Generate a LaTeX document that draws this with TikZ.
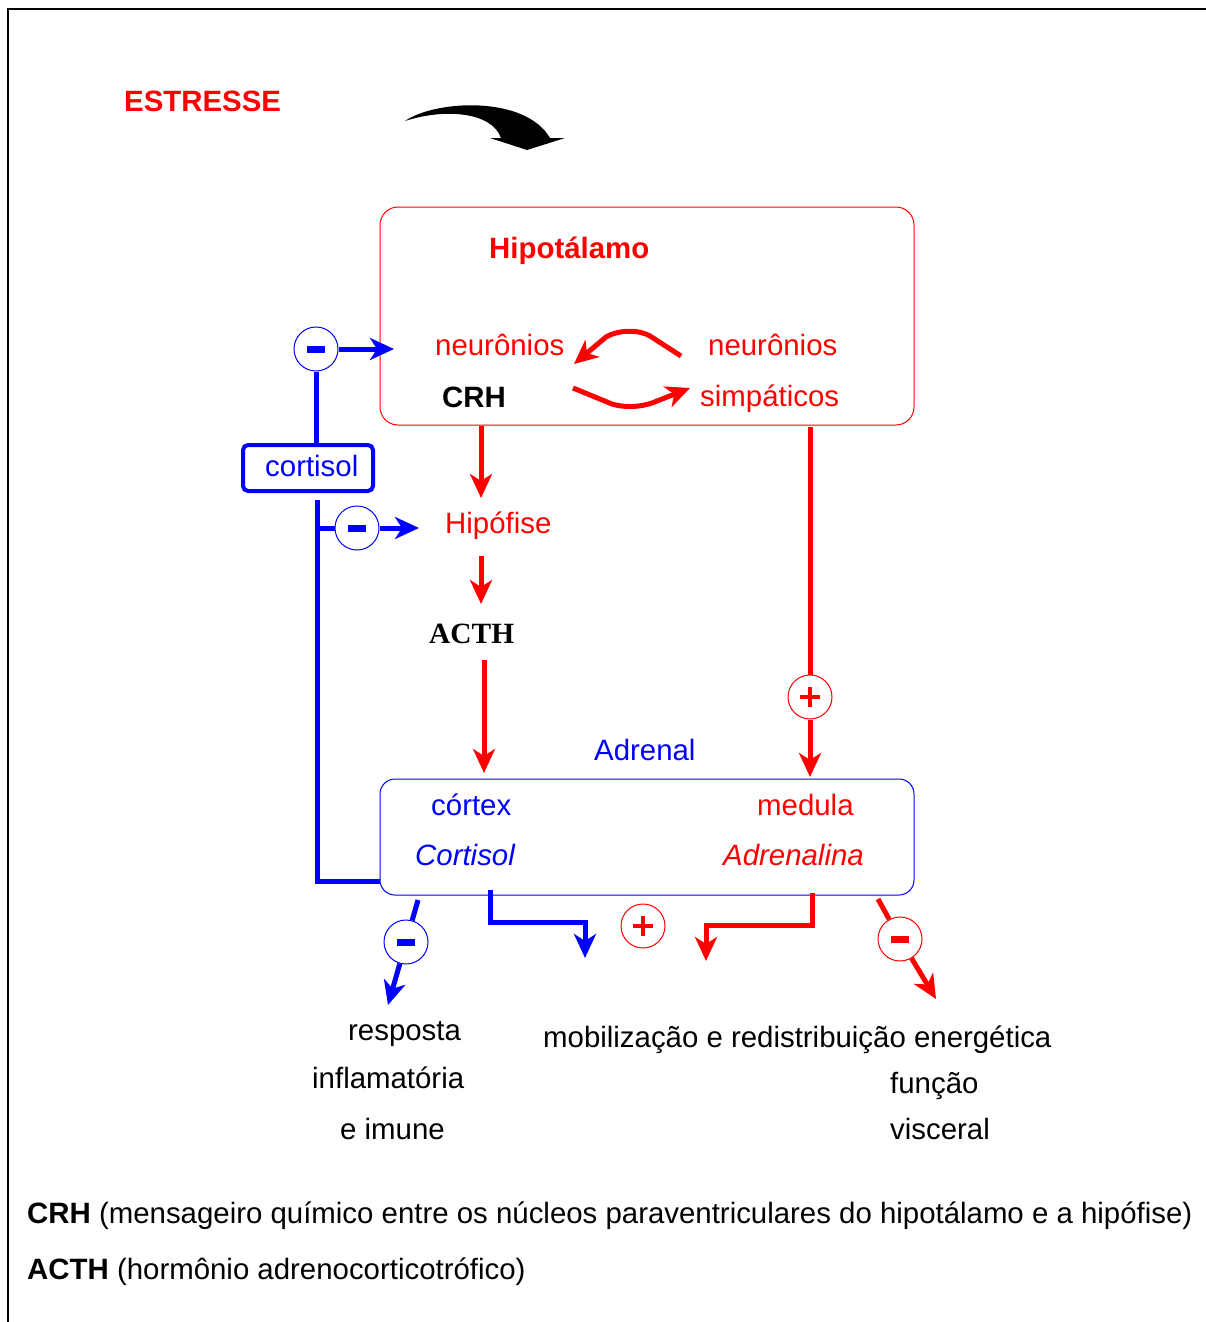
\documentclass[tikz,border=0pt]{standalone}
\usepackage{fontspec}
\setmainfont{Liberation Sans}
\newfontfamily\timesf{Liberation Serif}
\usetikzlibrary{arrows.meta}
\begin{document}
\begin{tikzpicture}[x=1pt,y=-1pt,
 txt/.style={anchor=base west, inner sep=0pt, font=\fontsize{29.4}{34}\selectfont},
 redt/.style={txt, text=red},
 bluet/.style={txt, text=blue},
 blackt/.style={txt, text=black},
 tipa/.style={-{Stealth[length=24pt,width=22pt,inset=7pt]}},
 rl/.style={line width=5pt, red},
 bl/.style={line width=5pt, blue},
 minusc/.style={circle, draw=#1, line width=1pt, minimum size=44pt, inner sep=0pt, fill=white,
   path picture={\fill[#1] ([xshift=-9pt,yshift=-3.5pt]path picture bounding box.center) rectangle ++(18pt,7pt);}},
 plusc/.style={circle, draw=red, line width=1pt, minimum size=44pt, inner sep=0pt, fill=white,
   path picture={\draw[red,line width=4pt] ([xshift=-10pt]path picture bounding box.center) -- ++(20pt,0pt)
     ([yshift=-10pt]path picture bounding box.center) -- ++(0pt,20pt);}},
 bigbox/.style={rectangle, draw=#1, line width=1pt, rounded corners=18pt, inner sep=0pt},
]
\useasboundingbox (0,0) rectangle (1206,1322);
% frame
\draw[line width=2pt] (1206,9) -- (8,9) -- (8,1322);

% stress
\node[redt, font=\fontsize{29.4}{34}\selectfont\bfseries] (estresse) at (124,111) {ESTRESSE};
\fill[black] (405,121) .. controls (435,100) and (525,95) .. (550,138) -- (565,138) -- (527,150) -- (490,138) -- (501,138)
  .. controls (492,112) and (445,108) .. (405,121);

% hypothalamus box
\node[bigbox=red, minimum width=534pt, minimum height=218pt] (hyp) at (647,316) {};
\node[redt, font=\fontsize{29.4}{34}\selectfont\bfseries] (hiptxt) at (489,258) {Hipotálamo};
\node[redt] (neur1) at (435,355) {neurônios};
\node[blackt, font=\fontsize{29.4}{34}\selectfont\bfseries] (crh) at (442,407) {CRH};
\node[redt] (neur2) at (708,355) {neurônios};
\node[redt] (simp) at (700,406) {simpáticos};

\coordinate (ca1) at (681,356);
\coordinate (ca2) at (574,364);
\coordinate (cb1) at (573,388);
\coordinate (cb2) at (690,388);
\draw[rl, tipa] (ca1) -- (650,336) .. controls (640,330) and (620,329) .. (606,337) -- (ca2);
\draw[rl, tipa] (cb1) -- (612,404) .. controls (625,408) and (640,407) .. (652,403) -- (cb2);

% cortisol feedback
\node[minusc=blue] (m1) at (316,349) {};
\coordinate (m1e) at (394,349);
\draw[bl, tipa] (m1) -- (m1e);
\node[rectangle, draw=blue, line width=4pt, rounded corners=5pt, minimum width=130pt, minimum height=46pt, inner sep=0pt] (cortbox) at (308,468) {};
\node[bluet] (cortxt) at (265,476) {cortisol};
\draw[bl] (m1) -- (m1 |- cortbox.north);
\coordinate (fb0) at (317,500);
\coordinate (fbb) at (317,528);
\node[minusc=blue] (m2) at (357,528) {};
\coordinate (m2e) at (419,528);
\draw[bl] (fbb) -- (m2);
\draw[bl, tipa] (m2) -- (m2e);

% hypophysis chain
\node[redt] (hipof) at (445,533) {Hipófise};
\coordinate (r1a) at (481,426);
\coordinate (r1b) at (481,498);
\draw[rl, tipa] (r1a) -- (r1b);
\coordinate (r2a) at (481,556);
\coordinate (r2b) at (481,604);
\draw[rl, tipa] (r2a) -- (r2b);
\node[blackt, font=\fontsize{29.4}{34}\selectfont\timesf\bfseries] (acth) at (429,643) {ACTH};
\coordinate (r3a) at (484,660);
\coordinate (r3b) at (484,773);
\draw[rl, tipa] (r3a) -- (r3b);

% sympathetic path
\coordinate (s1) at (810,427);
\node[plusc] (p1) at (810,697) {};
\coordinate (s2) at (810,777);
\draw[rl] (s1) -- (p1);
\draw[rl, tipa] (p1) -- (s2);

% adrenal
\node[bluet] (adrtxt) at (594,760) {Adrenal};
\node[bigbox=blue, rounded corners=15pt, minimum width=534pt, minimum height=116pt] (adr) at (647,837) {};
\node[bluet] (cortex) at (431,815) {córtex};
\node[bluet, font=\fontsize{29.4}{34}\selectfont\itshape] (cortisol2) at (415,865) {Cortisol};
\node[redt] (medula) at (757,815) {medula};
\node[redt, font=\fontsize{29.4}{34}\selectfont\itshape] (adrenalina) at (723,865) {Adrenalina};

\draw[bl] (fb0) -- (317,881) -- (adr.west |- 0,881);

% outputs
\coordinate (o1a) at (418,900);
\node[minusc=blue] (m3) at (406,942) {};
\coordinate (o1b) at (388,1005);
\draw[bl] (o1a) -- (m3);
\draw[bl, tipa] (m3) -- (o1b);

\coordinate (o2a) at (490,890);
\coordinate (o2b) at (585,958);
\draw[bl, tipa] (o2a) -- (490,922) -- (585,922) -- (o2b);

\node[plusc] (p2) at (643,926) {};

\coordinate (o3a) at (812,893);
\coordinate (o3b) at (706,961);
\draw[rl, tipa] (o3a) -- (812,925) -- (706,925) -- (o3b);

\coordinate (o4a) at (878,899);
\node[minusc=red] (m4) at (900,939) {};
\coordinate (o4b) at (936,999);
\draw[rl] (o4a) -- (m4);
\draw[rl, tipa] (m4) -- (o4b);

% effect texts
\node[blackt] (resp) at (348,1040) {resposta};
\node[blackt] (infl) at (312,1088) {inflamatória};
\node[blackt] (imune) at (340,1139) {e imune};
\node[blackt] (mobil) at (543,1047) {mobilização e redistribuição energética};
\node[blackt] (func) at (890,1093) {função};
\node[blackt] (visc) at (890,1139) {visceral};

% legend
\node[blackt] (leg1) at (27,1223) {\textbf{CRH} (mensageiro químico entre os núcleos paraventriculares do hipotálamo e a hipófise)};
\node[blackt] (leg2) at (27,1279) {\textbf{ACTH} (hormônio adrenocorticotrófico)};
\end{tikzpicture}
\end{document}
